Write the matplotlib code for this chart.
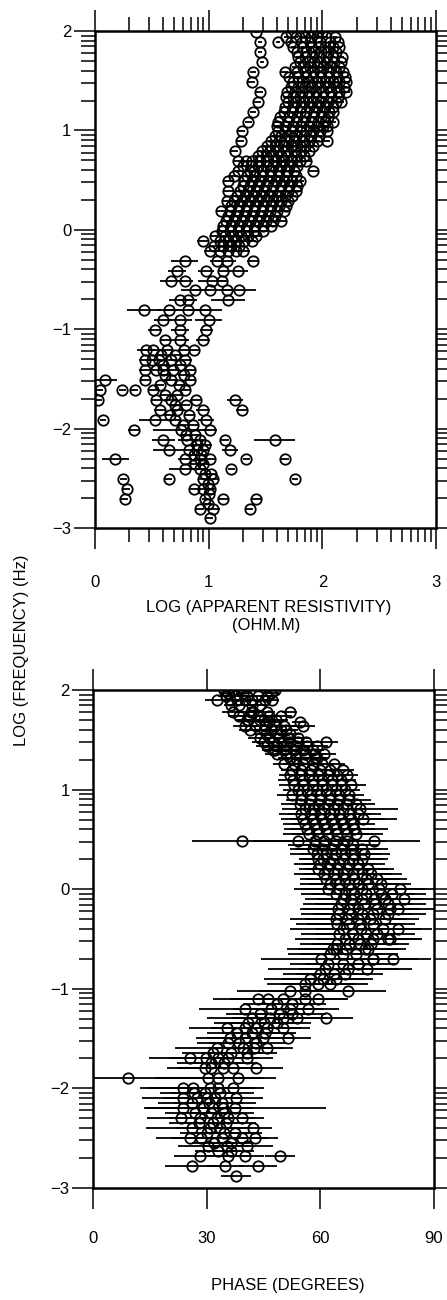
import numpy as np
import matplotlib
matplotlib.use('Agg')
import matplotlib.pyplot as plt

plt.rcParams['font.family'] = ['Liberation Sans', 'DejaVu Sans']

# ---- upper panel: log apparent resistivity vs log frequency ----
rho_logf = [1.99, 1.89, 1.79, 1.69, 1.59, 1.49, 1.39, 1.29, 1.19, 1.09,
            0.99, 0.89, 0.79, 0.69, 0.59, 0.49, 0.39, 0.29, 0.19, 0.09,
            -0.01, -0.11, -0.21, -0.31, -0.41, -0.51, -0.61, -0.71, -0.81, -0.91,
            -1.01, -1.11, -1.21, -1.26, -1.31, -1.36, -1.41, -1.46, -1.51, -1.56,
            -1.61, -1.66, -1.71, -1.76, -1.81, -1.86, -1.91, -1.96, -2.01, -2.06,
            -2.11, -2.16, -2.21, -2.26, -2.31, -2.36, -2.41, -2.46, -2.51, -2.56,
            -2.61, -2.66, -2.71, -2.76, -2.81, -2.90]
rho_vals = [
    [1.42, 1.72, 1.82, 1.87, 1.92, 1.96, 2.00],
    [1.45, 1.61, 1.72, 1.82, 1.89, 1.98, 2.07, 2.14],
    [1.45, 1.78, 1.86, 1.93, 1.99, 2.05, 2.12],
    [1.47, 1.80, 1.87, 1.93, 1.98, 2.04, 2.10, 2.16],
    [1.39, 1.67, 1.78, 1.85, 1.92, 1.98, 2.05, 2.12, 2.18],
    [1.38, 1.74, 1.82, 1.88, 1.95, 2.02, 2.09, 2.15, 2.21],
    [1.45, 1.69, 1.76, 1.82, 1.88, 1.94, 2.01, 2.08, 2.15, 2.21],
    [1.43, 1.70, 1.77, 1.84, 1.91, 1.98, 2.05, 2.12, 2.16],
    [1.39, 1.66, 1.73, 1.80, 1.86, 1.93, 2.00, 2.06, 2.09],
    [1.35, 1.61, 1.70, 1.77, 1.83, 1.90, 1.96, 2.02, 2.09],
    [1.29, 1.61, 1.67, 1.73, 1.80, 1.86, 1.92, 1.98, 2.04],
    [1.28, 1.55, 1.62, 1.68, 1.75, 1.82, 1.88, 1.95, 2.04],
    [1.23, 1.47, 1.54, 1.61, 1.68, 1.75, 1.81, 1.88],
    [1.26, 1.33, 1.38, 1.45, 1.52, 1.59, 1.66, 1.73, 1.80, 1.86],
    [1.26, 1.36, 1.40, 1.47, 1.54, 1.61, 1.68, 1.75, 1.92],
    [1.17, 1.31, 1.38, 1.45, 1.52, 1.59, 1.66, 1.73, 1.80],
    [1.17, 1.275, 1.35, 1.42, 1.49, 1.56, 1.63, 1.70, 1.77],
    [1.16, 1.22, 1.29, 1.36, 1.43, 1.50, 1.57, 1.64, 1.70],
    [1.11, 1.19, 1.26, 1.33, 1.40, 1.47, 1.54, 1.60, 1.66],
    [1.15, 1.22, 1.29, 1.36, 1.43, 1.50, 1.57, 1.64],
    [1.12, 1.19, 1.26, 1.33, 1.40, 1.48],
    [0.95, 1.10, 1.17, 1.24, 1.31, 1.38],
    [1.01, 1.10, 1.17, 1.24, 1.30],
    [0.79, 1.07, 1.16, 1.39],
    [0.72, 0.98, 1.13, 1.26],
    [0.67, 0.79, 1.03, 1.12],
    [0.88, 1.01, 1.16, 1.27],
    [0.75, 0.82, 1.17],
    [0.43, 0.65, 0.82, 0.97],
    [0.60, 0.75, 1.00],
    [0.53, 0.75, 0.98],
    [0.62, 0.75, 0.95],
    [0.45, 0.51, 0.63, 0.78, 0.87],
    [0.58, 0.70],
    [0.44, 0.50, 0.56, 0.67, 0.79],
    [0.60, 0.75],
    [0.44, 0.54, 0.60, 0.69, 0.84],
    [0.62, 0.78],
    [0.09, 0.44, 0.67, 0.84],
    [0.57, 0.74],
    [0.04, 0.24, 0.35, 0.51, 0.79],
    [0.62, 0.72],
    [0.03, 0.54, 0.67, 0.89, 1.23],
    [0.70, 0.80],
    [0.57, 0.72, 0.95, 1.29],
    [0.66, 0.83],
    [0.07, 0.53, 0.70, 0.98],
    [0.77, 0.86],
    [0.34, 0.76, 1.01],
    [0.80, 0.88],
    [0.60, 0.81, 0.92, 1.14, 1.58],
    [0.90, 0.97],
    [0.65, 0.83, 0.90, 0.95, 1.19],
    [0.87, 0.93],
    [0.18, 0.79, 0.92, 1.01, 1.33, 1.67],
    [0.88, 0.95],
    [0.79, 0.92, 1.20],
    [0.97, 1.02],
    [0.25, 0.65, 0.95, 1.04, 1.76],
    [0.99],
    [0.28, 0.87, 0.95, 1.01],
    [1.00],
    [0.26, 0.97, 1.13, 1.42],
    [0.99],
    [0.92, 1.04, 1.36],
    [1.01],
]
rho_errs = [
    0.02, 0.02, 0.02, 0.02, 0.03, 0.03, 0.03, 0.03, 0.03, 0.03,
    0.03, 0.03, 0.03, 0.04, 0.04, 0.04, 0.04, 0.04, 0.04, 0.04,
    [0.04, 0.05, 0.04, 0.05, 0.04, 0.06],
    [0.05, 0.04, 0.05, 0.04, 0.06, 0.04],
    [0.05, 0.05, 0.04, 0.05, 0.06],
    [0.12, 0.06, 0.08, 0.05],
    [0.08, 0.07, 0.05, 0.09],
    [0.10, 0.07, 0.12, 0.05],
    [0.12, 0.15, 0.05, 0.15],
    [0.10, 0.08, 0.15],
    [0.15, 0.10, 0.20, 0.15],
    [0.08, 0.10, 0.12],
    [0.06, 0.08, 0.06],
    [0.05, 0.08, 0.06],
    [0.08, 0.10, 0.05, 0.05, 0.05],
    [0.05, 0.06],
    [0.05, 0.04, 0.06, 0.05, 0.06],
    [0.05, 0.05],
    [0.05, 0.05, 0.04, 0.06, 0.04],
    [0.05, 0.05],
    [0.10, 0.04, 0.06, 0.04],
    [0.04, 0.05],
    [0.03, 0.03, 0.03, 0.04, 0.05],
    [0.05, 0.05],
    [0.03, 0.04, 0.06, 0.05, 0.07],
    [0.05, 0.04],
    [0.05, 0.06, 0.06, 0.05],
    [0.05, 0.05],
    [0.03, 0.14, 0.05, 0.07],
    [0.05, 0.05],
    [0.05, 0.25, 0.06],
    [0.05, 0.05],
    [0.10, 0.08, 0.05, 0.04, 0.18],
    [0.05, 0.06],
    [0.14, 0.06, 0.05, 0.06, 0.07],
    [0.05, 0.04],
    [0.12, 0.06, 0.05, 0.05, 0.03, 0.04],
    [0.04, 0.04],
    [0.14, 0.06, 0.03],
    [0.04, 0.05],
    [0.03, 0.03, 0.04, 0.04, 0.03],
    [0.04],
    [0.03, 0.03, 0.05, 0.05],
    [0.04],
    [0.03, 0.03, 0.04, 0.04],
    [0.04],
    [0.04, 0.06, 0.03],
    [0.03],
]

# second site of the dense resistivity band (between the rows above)
rho2_logf = [1.94, 1.84, 1.74, 1.64, 1.54, 1.44, 1.34, 1.24, 1.14, 1.04,
             0.94, 0.84, 0.74, 0.64, 0.54, 0.44, 0.34, 0.24, 0.14, 0.04,
             -0.06, -0.16]
rho2_vals = [
    [1.68, 1.77, 1.85, 1.90, 1.95, 2.03, 2.11],
    [1.74, 1.83, 1.90, 1.96, 2.02, 2.09, 2.15],
    [1.79, 1.85, 1.91, 1.97, 2.03, 2.09, 2.17],
    [1.76, 1.83, 1.89, 1.95, 2.01, 2.08, 2.15],
    [1.71, 1.79, 1.86, 1.92, 1.99, 2.06, 2.13, 2.20],
    [1.72, 1.79, 1.85, 1.91, 1.98, 2.05, 2.12, 2.19],
    [1.68, 1.74, 1.80, 1.87, 1.94, 2.01, 2.08, 2.14],
    [1.67, 1.74, 1.81, 1.88, 1.95, 2.02, 2.09],
    [1.63, 1.71, 1.78, 1.85, 1.92, 1.99, 2.05],
    [1.60, 1.67, 1.74, 1.81, 1.88, 1.95, 2.01, 2.04],
    [1.58, 1.64, 1.71, 1.77, 1.84, 1.90, 1.97],
    [1.51, 1.58, 1.65, 1.72, 1.78, 1.85, 1.92],
    [1.43, 1.50, 1.57, 1.64, 1.70, 1.77, 1.84],
    [1.30, 1.37, 1.43, 1.50, 1.57, 1.64, 1.71, 1.78],
    [1.22, 1.34, 1.41, 1.48, 1.55, 1.62, 1.69, 1.77],
    [1.30, 1.36, 1.43, 1.50, 1.57, 1.64, 1.71, 1.78],
    [1.25, 1.32, 1.39, 1.46, 1.53, 1.60, 1.67, 1.73],
    [1.20, 1.27, 1.34, 1.41, 1.48, 1.55, 1.62, 1.68],
    [1.17, 1.24, 1.31, 1.38, 1.45, 1.52, 1.58],
    [1.13, 1.20, 1.27, 1.34, 1.41, 1.48, 1.55],
    [1.06, 1.14, 1.21, 1.28, 1.35, 1.42],
    [1.05, 1.13, 1.20, 1.27],
]
rho2_errs = [0.02, 0.02, 0.02, 0.03, 0.03, 0.03, 0.03, 0.03, 0.03, 0.03,
             0.03, 0.03, 0.04, 0.04, 0.04, 0.04, 0.04, 0.04, 0.04, 0.05,
             0.05, 0.05]

# ---- lower panel: phase vs log frequency ----
ph_logf = [2.00, 1.97, 1.90, 1.85, 1.78, 1.70, 1.68, 1.60, 1.56, 1.48,
           1.40, 1.32, 1.20, 1.10, 1.00, 0.90, 0.80, 0.70, 0.60, 0.48,
           0.40, 0.30, 0.20, 0.10, 0.00, -0.10, -0.20, -0.30, -0.40, -0.50,
           -0.60, -0.70, -0.80, -0.90, -1.02, -1.10, -1.20, -1.30, -1.40, -1.50,
           -1.60, -1.70, -1.80, -1.90, -2.00, -2.10, -2.20, -2.30, -2.40, -2.50,
           -2.58, -2.68, -2.78, -2.88]
ph_vals = [
    [34.5, 36.9, 38.3, 48.0],
    [35.5, 39.6, 47.0],
    [32.6, 36.1, 38.0, 40.0, 41.9, 45.3, 47.1],
    [36.5, 38.5, 42.0, 44.0],
    [36.9, 41.8, 42.2, 46.0, 51.9],
    [40.5, 41.0, 44.0, 45.0, 48.4],
    [46.5, 54.5],
    [41.5, 45.0, 47.0, 49.5, 51.0],
    [45.7, 48.5, 51.9],
    [45.0, 47.6, 50.0, 52.0, 54.0, 56.3, 61.6],
    [47.6, 48.0, 50.5, 53.0, 55.5, 58.0],
    [51.9, 53.5, 56.0, 58.5, 59.0],
    [52.5, 55.0, 57.5, 60.0, 62.5, 66.0],
    [52.8, 55.5, 58.0, 60.5, 63.0, 65.5],
    [54.0, 56.5, 59.0, 61.5, 64.0, 66.5],
    [55.0, 57.5, 60.0, 62.5, 65.0, 67.5],
    [55.9, 58.0, 61.0, 63.5, 66.0, 70.4],
    [55.5, 58.0, 60.5, 63.0, 65.5, 68.0, 71.3],
    [56.5, 59.0, 61.5, 64.0, 66.5, 69.0],
    [39.2, 54.1, 58.5, 61.0, 64.0, 67.0, 74.3],
    [58.0, 60.5, 63.0, 65.5, 68.0, 71.0],
    [59.4, 60.7, 63.3, 66.0, 68.5, 71.0],
    [59.4, 62.0, 64.5, 67.0, 70.0, 72.5],
    [61.5, 64.0, 66.5, 69.0, 72.0, 75.0],
    [62.0, 65.0, 68.0, 71.0, 75.6, 81.0],
    [66.0, 68.0, 71.0, 74.3, 77.0, 82.2],
    [64.7, 67.5, 70.0, 75.0, 78.3, 80.5],
    [64.0, 67.0, 70.0, 73.0, 77.0],
    [66.0, 70.8, 76.6, 80.5],
    [66.4, 70.0, 74.0, 77.9, 78.3],
    [63.3, 64.2, 66.9, 71.7, 72.6],
    [60.2, 73.9, 74.0, 79.2],
    [61.2, 67.4, 72.2],
    [57.2, 60.7, 64.0],
    [51.9, 55.9, 67.4],
    [43.6, 46.2, 50.0, 55.9, 59.4],
    [40.0, 47.0, 52.0, 56.8],
    [42.0, 46.6, 50.0, 53.7, 61.6],
    [35.2, 40.0, 43.0, 46.0, 50.2],
    [36.1, 40.0, 44.9, 51.5],
    [32.6, 39.6, 42.5, 45.8],
    [25.6, 29.9, 33.0, 35.7, 40.5],
    [29.5, 31.0, 34.4, 37.0, 43.1],
    [9.3, 30.3, 33.0, 38.2],
    [23.8, 26.4, 30.8, 33.0, 37.0],
    [23.8, 27.3, 30.0, 32.1, 37.8],
    [23.8, 29.0, 31.5, 34.3, 37.4],
    [23.3, 28.1, 32.6, 35.6, 39.2],
    [26.0, 30.8, 33.5, 42.3],
    [25.6, 28.5, 33.9, 39.2, 42.7],
    [30.4, 35.2, 40.5],
    [28.2, 35.6, 40.0, 49.3],
    [26.0, 34.8, 43.6],
    [37.8],
]
ph_errs = [
    2, 2, [3, 2, 2, 2, 2, 2, 2], 2, [3, 3, 2, 2, 2], 3, 2, 3, 3, 3,
    3, 3, 3, 4, 4,
    [4, 5, 5, 6, 5, 6],
    [6, 5, 6, 7, 6, 10],
    [6, 6, 7, 8, 7, 9, 9],
    [6, 7, 8, 9, 8, 9],
    [13, 12, 8, 9, 8, 10, 12],
    [6, 7, 8, 9, 8, 7],
    [5, 6, 6, 7, 8, 7],
    [5, 6, 8, 7, 8, 7],
    [7, 8, 9, 8, 9, 8],
    [9, 10, 11, 10, 12, 15],
    [10, 9, 12, 11, 10, 15],
    [10, 12, 11, 9, 8, 12],
    [12, 11, 13, 10, 9],
    [14, 12, 10, 9],
    [13, 11, 10, 9, 8],
    [12, 10, 11, 9, 10],
    [16, 12, 11, 10],
    [15, 13, 12],
    [12, 11, 10],
    [14, 12, 10],
    [12, 10, 9, 11, 8],
    [12, 10, 9, 8],
    [12, 10, 9, 8, 7],
    [10, 9, 8, 9, 7],
    [9, 10, 8, 6],
    [11, 9, 8, 7],
    [11, 10, 9, 8, 7],
    [10, 9, 9, 8, 7],
    [12, 14, 12, 10],
    [10, 14, 12, 9, 8],
    [11, 9, 10, 8, 7],
    [10, 9, 10, 8, 24],
    [9, 8, 8, 7, 6],
    [12, 9, 8, 5],
    [9, 8, 7, 7, 6],
    [8, 6, 7],
    [7, 6, 5, 4],
    [7, 5, 5],
    [4],
]

# second site of the phase band
ph2_logf = [1.94, 1.74, 1.64, 1.52, 1.44, 1.36, 1.26, 1.15, 1.05, 0.95,
            0.85, 0.75, 0.65, 0.55, 0.44, 0.35, 0.25, 0.15, 0.05, -0.05,
            -0.15, -0.25, -0.35, -0.45, -0.55, -0.65, -0.75, -0.85, -0.95, -1.15,
            -1.25, -1.35, -1.45, -1.55, -1.65, -1.75, -2.05, -2.15, -2.25, -2.35,
            -2.45, -2.55, -2.63]
ph2_vals = [
    [35.0, 37.5, 40.5, 43.5, 46.0],
    [38.5, 41.5, 43.5, 46.5, 49.5],
    [40.0, 43.0, 45.5, 48.0, 50.5, 55.5],
    [44.0, 46.5, 49.0, 51.5, 54.0],
    [46.0, 48.5, 51.0, 53.5, 56.5, 59.0],
    [48.5, 51.0, 53.5, 56.0, 58.5, 61.0],
    [50.5, 53.0, 55.5, 58.0, 60.5, 63.5],
    [52.0, 54.5, 57.0, 59.5, 62.0, 64.5, 67.0],
    [53.0, 55.5, 58.0, 60.5, 63.0, 65.5, 68.0],
    [52.5, 55.0, 57.5, 60.0, 62.5, 65.0, 67.5],
    [54.5, 57.0, 59.5, 62.0, 64.5, 67.0, 69.5],
    [55.0, 57.5, 60.0, 62.5, 65.0, 67.5, 70.0],
    [56.0, 58.5, 61.0, 63.5, 66.0, 68.5],
    [57.0, 59.5, 62.0, 64.5, 67.0, 69.5],
    [58.5, 61.0, 63.5, 66.0, 68.5],
    [59.0, 61.5, 64.0, 66.5, 69.0, 71.5],
    [60.0, 62.5, 65.0, 67.5, 70.0],
    [61.0, 63.5, 66.0, 68.5, 71.0, 73.5],
    [62.5, 65.0, 67.5, 70.0, 72.5, 76.0],
    [64.0, 66.5, 69.0, 72.0, 76.0, 79.0],
    [65.5, 68.5, 71.5, 74.5, 78.0],
    [65.0, 68.0, 71.0, 74.0, 78.0],
    [64.5, 67.5, 70.5, 74.0],
    [65.0, 68.5, 72.0, 75.0],
    [64.5, 67.5, 70.5, 73.5],
    [62.5, 66.0, 69.5],
    [62.0, 66.0, 70.0],
    [60.0, 63.5, 66.5],
    [56.0, 59.5, 62.5],
    [48.5, 52.5],
    [44.0, 49.0, 52.5],
    [41.0, 45.0, 48.5],
    [38.0, 42.0, 45.5],
    [35.5, 38.5, 43.0],
    [31.5, 36.5, 40.5],
    [31.0, 34.5],
    [26.5, 29.5, 33.5],
    [26.0, 30.5, 34.0],
    [27.0, 31.0, 34.5],
    [28.0, 31.5, 35.0],
    [30.0, 34.5, 37.5],
    [32.0, 36.5],
    [33.0, 36.5],
]
ph2_errs = [2, 3, 3, 3, 3, 3, 3, 3, 4, 4,
            5, 6, 6, 7, 7, 7, 7, 8, 8, 9,
            10, 10, 11, 10, 10, 11, 10, 10, 10, 9,
            9, 9, 8, 8, 8, 9, 9, 9, 8, 8,
            7, 6, 6]


def flatten(levels, vals, errs):
    ys, xs, es = [], [], []
    for lev, row, err in zip(levels, vals, errs):
        xs.extend(row)
        ys.extend([lev] * len(row))
        es.extend(np.broadcast_to(err, len(row)))
    return np.array(xs), np.array(ys), np.array(es)


def draw(ax, x, y, e):
    ax.errorbar(x, y, xerr=e, fmt='o', ms=7.5, mfc='none', mec='k', mew=1.3,
                ecolor='k', elinewidth=1.3, capsize=0)


def style_axis(ax, xmajor, xminor):
    ax.set_ylim(-3, 2)
    ax.set_yticks(range(-3, 3))
    ax.set_yticks([n + np.log10(k) for n in range(-3, 2) for k in range(2, 10)], minor=True)
    ax.set_xticks(xmajor)
    ax.set_xticks(xminor, minor=True)
    ax.tick_params(which='both', direction='out', top=True, right=True, width=1.1)
    ax.tick_params(which='major', length=15, labelsize=12)
    ax.tick_params(which='minor', length=10)
    ax.tick_params(axis='y', pad=2)
    for sp in ax.spines.values():
        sp.set_linewidth(1.8)


fig = plt.figure(figsize=(4.47, 13.0), dpi=100)

ax1 = fig.add_axes([0.2125, 0.5938, 0.763, 0.3823])
draw(ax1, *flatten(rho_logf, rho_vals, rho_errs))
draw(ax1, *flatten(rho2_logf, rho2_vals, rho2_errs))
ax1.set_xlim(0, 3)
style_axis(ax1, [0, 1, 2, 3], [n + np.log10(k) for n in range(3) for k in range(2, 10)])
ax1.tick_params(axis='x', pad=19)

ax2 = fig.add_axes([0.2087, 0.0864, 0.762, 0.3828])
draw(ax2, *flatten(ph_logf, ph_vals, ph_errs))
draw(ax2, *flatten(ph2_logf, ph2_vals, ph2_errs))
ax2.set_xlim(0, 90)
style_axis(ax2, [0, 30, 60, 90], [])
ax2.tick_params(axis='x', pad=16)

fig.text(0.6, 0.533, 'LOG (APPARENT RESISTIVITY)', ha='center', va='center', fontsize=12)
fig.text(0.595, 0.519, '(OHM.M)', ha='center', va='center', fontsize=12)
fig.text(0.644, 0.0115, 'PHASE (DEGREES)', ha='center', va='center', fontsize=12)
fig.text(0.049, 0.5, 'LOG (FREQUENCY) (Hz)', rotation=90, ha='center', va='center', fontsize=12)

fig.savefig('out.png', dpi=100)
